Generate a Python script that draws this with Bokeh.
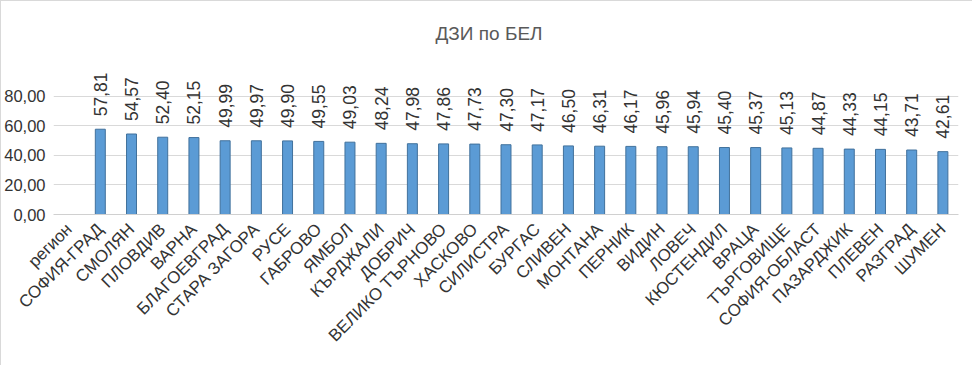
from math import pi
from bokeh.plotting import figure
from bokeh.models import Range1d, FixedTicker, ColumnDataSource
from bokeh.core.properties import value
from bokeh.embed import file_html
from bokeh.resources import INLINE

title_text = "ДЗИ по БЕЛ"
first_category = "регион"
regions = ["СОФИЯ-ГРАД", "СМОЛЯН", "ПЛОВДИВ", "ВАРНА", "БЛАГОЕВГРАД", "СТАРА ЗАГОРА",
           "РУСЕ", "ГАБРОВО", "ЯМБОЛ", "КЪРДЖАЛИ", "ДОБРИЧ", "ВЕЛИКО ТЪРНОВО", "ХАСКОВО",
           "СИЛИСТРА", "БУРГАС", "СЛИВЕН", "МОНТАНА", "ПЕРНИК", "ВИДИН", "ЛОВЕЧ",
           "КЮСТЕНДИЛ", "ВРАЦА", "ТЪРГОВИЩЕ", "СОФИЯ-ОБЛАСТ", "ПАЗАРДЖИК", "ПЛЕВЕН",
           "РАЗГРАД", "ШУМЕН"]
scores = [57.81, 54.57, 52.40, 52.15, 49.99, 49.97, 49.90, 49.55, 49.03, 48.24, 47.98,
          47.86, 47.73, 47.30, 47.17, 46.50, 46.31, 46.17, 45.96, 45.94, 45.40, 45.37,
          45.13, 44.87, 44.33, 44.15, 43.71, 42.61]
y_ticks = [0, 20, 40, 60, 80]
y_tick_labels = ["0,00", "20,00", "40,00", "60,00", "80,00"]

FONT = "Liberation Sans"
TXT = "#333333"

categories = [first_category] + regions
src = ColumnDataSource(dict(
    x=regions, y=scores,
    lab=[f"{v:.2f}".replace(".", ",") for v in scores],
))

p = figure(x_range=categories, y_range=Range1d(0, 110.5),
           width=972, height=365, output_backend="svg", toolbar_location=None,
           min_border_left=51, min_border_right=15, min_border_top=50,
           min_border_bottom=152, title=title_text)
p.outline_line_color = None
p.background_fill_color = "white"
p.border_fill_color = "white"
p.styles = {"border-top": "1px solid #D9D9D9", "border-left": "1px solid #D9D9D9"}

p.title.align = "left"
p.title.offset = 382
p.title.standoff = 15
p.title.text_font = FONT
p.title.text_font_size = "19px"
p.title.text_font_style = "normal"
p.title.text_color = "#595959"

p.vbar(x="x", top="y", width=0.32, source=src,
       fill_color="#5B9BD5", line_color="#41719C", line_width=1)

p.text(x="x", y="y", text="lab", source=src, angle=pi / 2,
       text_align="left", text_baseline="middle", y_offset=-13,
       text_font=value(FONT), text_font_size="17.5px", text_color=TXT)

p.yaxis.ticker = FixedTicker(ticks=y_ticks)
p.yaxis.major_label_overrides = {t: l for t, l in zip(y_ticks, y_tick_labels)}
p.yaxis.axis_line_color = None
p.yaxis.major_tick_line_color = None
p.yaxis.minor_tick_line_color = None
p.yaxis.major_tick_out = 0
p.yaxis.major_tick_in = 0
p.yaxis.minor_tick_out = 0
p.yaxis.major_label_standoff = 8
p.yaxis.major_label_text_font = FONT
p.yaxis.major_label_text_font_size = "16.5px"
p.yaxis.major_label_text_color = TXT

p.xaxis.axis_line_color = "#D0D0D0"
p.xaxis.major_tick_line_color = None
p.xaxis.minor_tick_line_color = None
p.xaxis.major_label_orientation = pi / 4
p.xaxis.major_label_standoff = 6
p.xaxis.major_label_text_font = FONT
p.xaxis.major_label_text_font_size = "17px"
p.xaxis.major_label_text_color = TXT

p.xgrid.grid_line_color = None
p.ygrid.grid_line_color = "#D9D9D9"
p.ygrid.ticker = FixedTicker(ticks=y_ticks)

open("out.html", "w").write(file_html(p, INLINE))
